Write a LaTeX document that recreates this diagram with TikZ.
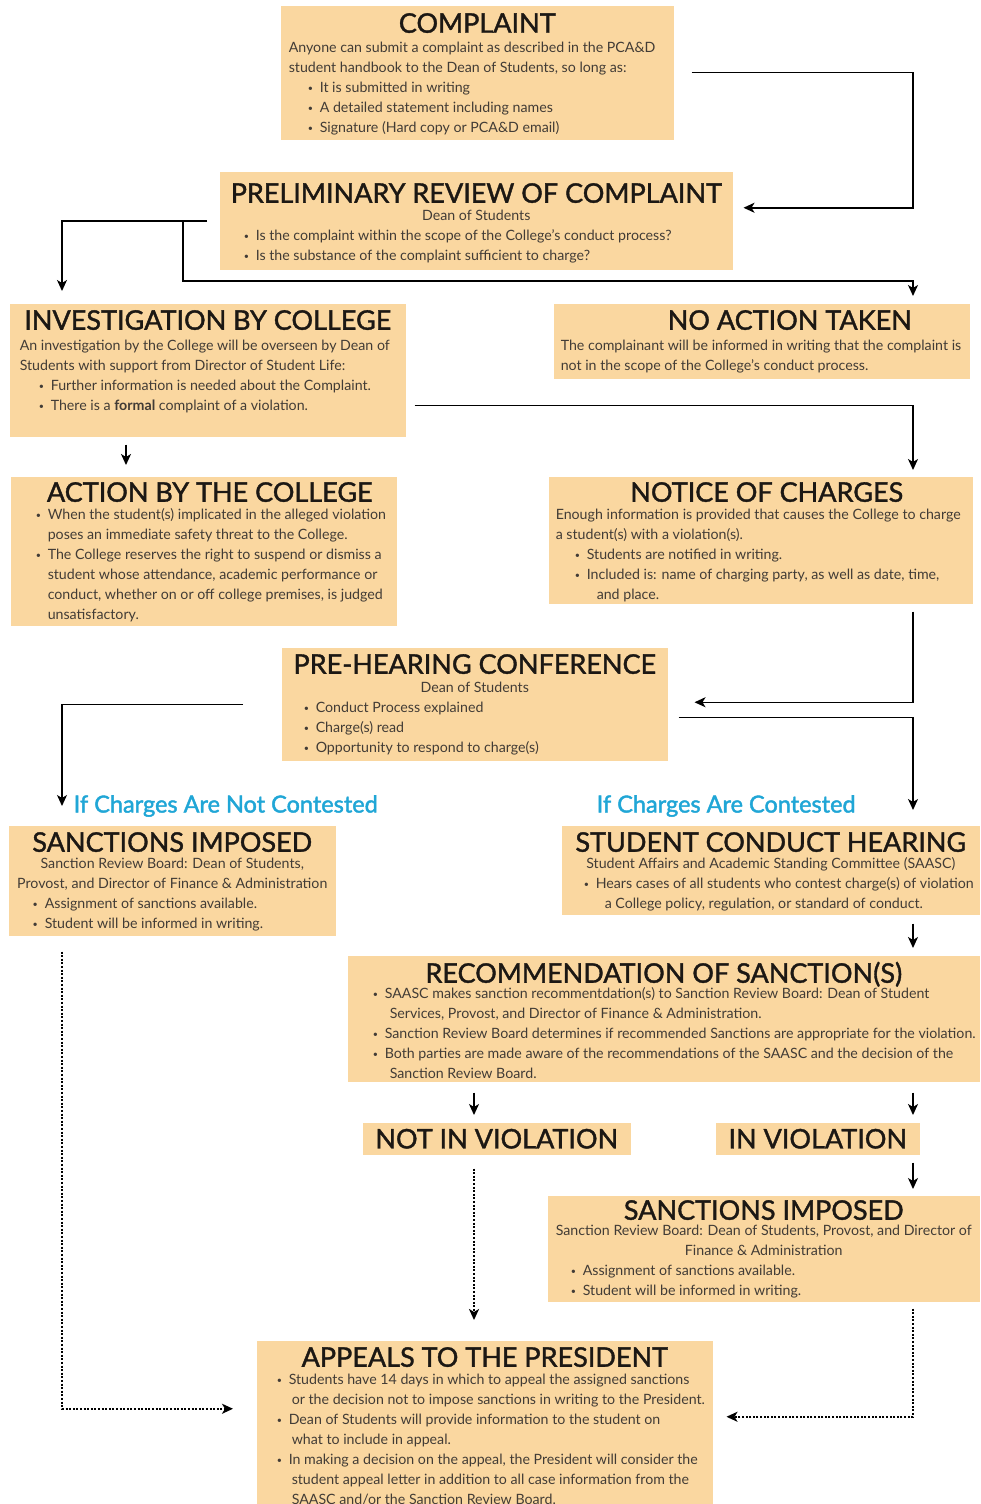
\documentclass[tikz,border=0pt]{standalone}
\usepackage{fontspec}
\setmainfont{Lato}
\newfontfamily\headfam[FakeBold=1.4]{Lato}
\newfontfamily\labelfam[FakeBold=1.8]{Lato}
\usetikzlibrary{arrows.meta}

\definecolor{boxfill}{RGB}{250,215,160}
\definecolor{bodygray}{RGB}{66,60,54}
\definecolor{headblack}{RGB}{28,24,20}
\definecolor{labelblue}{RGB}{32,166,214}

\newcommand{\headfont}{\headfam\fontsize{27}{30}\selectfont\color{headblack}}
\newcommand{\bodyfont}{\fontsize{14.2}{20}\selectfont\color{bodygray}}
\newcommand{\labelfont}{\labelfam\fontsize{23.5}{26}\selectfont}

% width, height, title baseline, gap to body, title, body
\newcommand{\boxbody}[6]{%
  \parbox[t][#2pt][t]{#1pt}{%
    {\centering\headfont\rule{0pt}{#3pt}#5\par}%
    \vspace{\dimexpr#4pt-20pt\relax}%
    \bodyfont #6\par}}
\newcommand{\dotmark}{{\fontsize{9}{9}\selectfont\raisebox{1.5pt}{\textbullet}}}
\newcommand{\txtrow}[2]{\par\noindent\hspace*{#1pt}\mbox{#2}}
\newcommand{\bulrow}[2]{\par\noindent\hspace*{#1pt}\makebox[12pt][l]{\dotmark}\mbox{#2}}
\newcommand{\ctrrow}[1]{\par{\centering\mbox{#1}\par}}

\begin{document}
\begin{tikzpicture}[x=1pt, y=-1pt, line width=1.5pt,
  >={Stealth[length=11pt,width=10pt,inset=3pt]},
  stagebox/.style={fill=boxfill, inner sep=0pt, anchor=north west},
  tagbox/.style={fill=boxfill, inner sep=0pt, anchor=north west, font=\headfont},
  caselabel/.style={anchor=west, inner sep=0pt, font=\labelfont, text=labelblue},
  dotline/.style={line width=2pt, dash pattern=on 2pt off 1.6pt}]
\useasboundingbox (0,0) rectangle (980,1504);
\coordinate (railL) at (62,0);
\coordinate (railM) at (474,0);
\coordinate (railR) at (913,0);

\node[stagebox] (complaint) at (280,5) {\boxbody{393}{134}{27}{20}{COMPLAINT}{%
  \txtrow{8}{Anyone can submit a complaint as described in the PCA\&D}
  \txtrow{8}{student handbook to the Dean of Students, so long as:}
  \bulrow{27}{It is submitted in writing}
  \bulrow{27}{A detailed statement including names}
  \bulrow{27}{Signature (Hard copy or PCA\&D email)}}};

\node[stagebox] (prelim) at (219,171) {\boxbody{513}{98}{31}{18}{PRELIMINARY REVIEW OF COMPLAINT}{%
  \ctrrow{Dean of Students}
  \bulrow{24}{Is the complaint within the scope of the College’s conduct process?}
  \bulrow{24}{Is the substance of the complaint sufficient to charge?}}};

\node[stagebox] (invest) at (9,303) {\boxbody{396}{133}{26}{21}{INVESTIGATION BY COLLEGE}{%
  \txtrow{10}{An investigation by the College will be overseen by Dean of}
  \txtrow{10}{Students with support from Director of Student Life:}
  \bulrow{29}{Further information is needed about the Complaint.}
  \bulrow{29}{There is a \textbf{formal} complaint of a violation.}}};

\node[stagebox] (noaction) at (553,303) {\boxbody{416}{75}{26}{21}{\hspace*{56pt}NO ACTION TAKEN}{%
  \txtrow{7}{The complainant will be informed in writing that the complaint is}
  \txtrow{7}{not in the scope of the College’s conduct process.}}};

\node[stagebox] (action) at (10,476) {\boxbody{386}{149}{25}{18}{\hspace*{12pt}ACTION BY THE COLLEGE}{%
  \bulrow{25}{When the student(s) implicated in the alleged violation}
  \txtrow{37}{poses an immediate safety threat to the College.}
  \bulrow{25}{The College reserves the right to suspend or dismiss a}
  \txtrow{37}{student whose attendance, academic performance or}
  \txtrow{37}{conduct, whether on or off college premises, is judged}
  \txtrow{37}{unsatisfactory.}}};

\node[stagebox] (notice) at (548,476) {\boxbody{424}{127}{25}{18}{\hspace*{12pt}NOTICE OF CHARGES}{%
  \txtrow{7}{Enough information is provided that causes the College to charge}
  \txtrow{7}{a student(s) with a violation(s).}
  \bulrow{26}{Students are notified in writing.}
  \bulrow{26}{Included is: name of charging party, as well as date, time,}
  \txtrow{48}{and place.}}};

\node[stagebox] (prehear) at (281,647) {\boxbody{386}{113}{26}{19}{PRE-HEARING CONFERENCE}{%
  \ctrrow{Dean of Students}
  \bulrow{22}{Conduct Process explained}
  \bulrow{22}{Charge(s) read}
  \bulrow{22}{Opportunity to respond to charge(s)}}};

\node[caselabel] (notcont) at (73,806) {If Charges Are Not Contested};
\node[caselabel] (cont) at (596,806) {If Charges Are Contested};

\node[stagebox] (sancL) at (8,825) {\boxbody{327}{110}{26}{17}{SANCTIONS IMPOSED}{%
  \ctrrow{Sanction Review Board: Dean of Students,}
  \ctrrow{Provost, and Director of Finance \& Administration}
  \bulrow{24}{Assignment of sanctions available.}
  \bulrow{24}{Student will be informed in writing.}}};

\node[stagebox] (hearing) at (561,825) {\boxbody{418}{89}{26}{17}{STUDENT CONDUCT HEARING}{%
  \ctrrow{Student Affairs and Academic Standing Committee (SAASC)}
  \bulrow{22}{Hears cases of all students who contest charge(s) of violation}
  \txtrow{43}{a College policy, regulation, or standard of conduct.}}};

\node[stagebox] (recom) at (347,955) {\boxbody{632}{126}{27}{16}{RECOMMENDATION OF SANCTION(S)}{%
  \bulrow{25}{SAASC makes sanction recommentdation(s) to Sanction Review Board: Dean of Student}
  \txtrow{42}{Services, Provost, and Director of Finance \& Administration.}
  \bulrow{25}{Sanction Review Board determines if recommended Sanctions are appropriate for the violation.}
  \bulrow{25}{Both parties are made aware of the recommendations of the SAASC and the decision of the}
  \txtrow{42}{Sanction Review Board.}}};

\node[tagbox, minimum width=268pt, minimum height=32pt] (notviol) at (362,1122) {NOT IN VIOLATION};
\node[tagbox, minimum width=204pt, minimum height=32pt] (inviol) at (715,1122) {IN VIOLATION};

\node[stagebox] (sancR) at (547,1195) {\boxbody{432}{106}{24}{16}{SANCTIONS IMPOSED}{%
  \ctrrow{Sanction Review Board: Dean of Students, Provost, and Director of}
  \ctrrow{Finance \& Administration}
  \bulrow{23}{Assignment of sanctions available.}
  \bulrow{23}{Student will be informed in writing.}}};

\node[stagebox] (appeals) at (256,1340) {\boxbody{456}{170}{26}{18}{APPEALS TO THE PRESIDENT}{%
  \bulrow{20}{Students have 14 days in which to appeal the assigned sanctions}
  \txtrow{35}{or the decision not to impose sanctions in writing to the President.}
  \bulrow{20}{Dean of Students will provide information to the student on}
  \txtrow{35}{what to include in appeal.}
  \bulrow{20}{In making a decision on the appeal, the President will consider the}
  \txtrow{35}{student appeal letter in addition to all case information from the}
  \txtrow{35}{SAASC and/or the Sanction Review Board.}}};

% connectors
\draw[->] ([xshift=17pt]complaint.east) -| ([yshift=13pt]prelim.east -| railR) -- ([xshift=10pt,yshift=13pt]prelim.east);
\draw[->] ([xshift=-12pt]prelim.west) -| ([yshift=12pt]invest.north -| railL);
\draw[->] ([xshift=-36pt]prelim.west) |- ([yshift=22pt]noaction.north -| railR) -- ([yshift=7pt]noaction.north -| railR);
\draw[->] ([xshift=117pt,yshift=-7pt]invest.south west) -- ([xshift=116pt,yshift=11pt]action.north west);
\draw[->] ([xshift=8pt,yshift=-35pt]invest.east) -| ([yshift=6pt]notice.north -| railR);
\draw[->] ([yshift=-7pt]notice.south -| railR) |- ([xshift=26pt,yshift=2pt]prehear.east);
\draw[->] ([xshift=-38pt]prehear.west) -| ([yshift=19pt]sancL.north -| railL);
\draw[->] ([xshift=10pt,yshift=-13pt]prehear.east) -| ([yshift=15pt]hearing.north -| railR);
\draw[->] ([yshift=-8pt]hearing.south -| railR) -- ([yshift=7pt]recom.north -| railR);
\draw[->] ([yshift=-10pt]recom.south -| railM) -- ([yshift=7pt]notviol.north -| railM);
\draw[->] ([yshift=-10pt]recom.south -| railR) -- ([yshift=7pt]inviol.north -| railR);
\draw[->] ([yshift=-7pt]inviol.south -| railR) -- ([yshift=6pt]sancR.north -| railR);
% appeal routes
\draw[->, dotline] ([yshift=-13pt]notviol.south -| railM) -- ([yshift=20pt]appeals.north -| railM);
\draw[->, dotline] ([yshift=-15pt]sancL.south -| railL) |- ([xshift=-23pt,yshift=17pt]appeals.west);
\draw[->, dotline] ([yshift=-6pt]sancR.south -| railR) |- ([xshift=13pt,yshift=9pt]appeals.east);
\end{tikzpicture}
\end{document}
